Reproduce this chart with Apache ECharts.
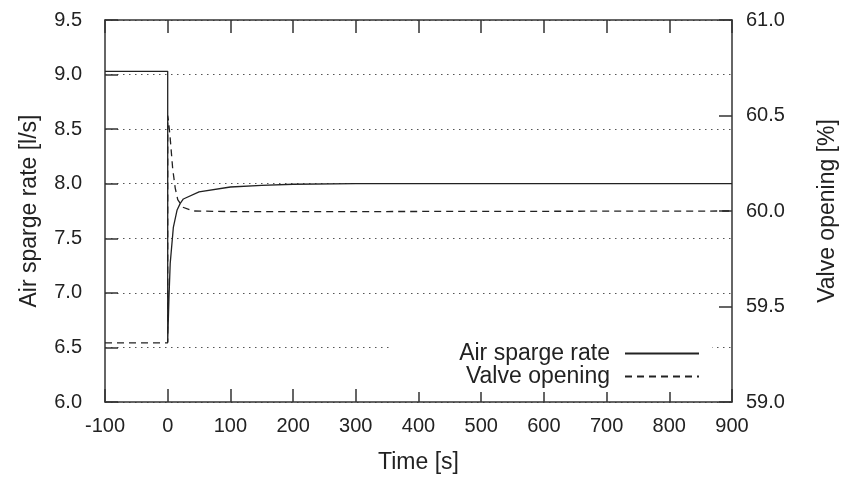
<!DOCTYPE html>
<html>
<head>
<meta charset="utf-8">
<script src="https://cdn.jsdelivr.net/npm/echarts@6/dist/echarts.min.js"></script>
<style>
  html, body { margin: 0; padding: 0; background: #fff; }
  #chart { width: 843px; height: 480px; }
</style>
</head>
<body>
<div id="chart"></div>
<script>
// ---- data ----
const xTicks = [-100, 0, 100, 200, 300, 400, 500, 600, 700, 800, 900];
const leftTicks = [6.0, 6.5, 7.0, 7.5, 8.0, 8.5, 9.0, 9.5];
const rightTicks = [59.0, 59.5, 60.0, 60.5, 61.0];

const spargeTime  = [-100, 0, 0, 2, 4, 9, 15, 20, 25, 50, 100, 150, 200, 300, 900];
const spargeRate  = [9.03, 9.03, 6.55, 6.95, 7.27, 7.60, 7.76, 7.82, 7.86, 7.925, 7.97, 7.985, 7.995, 8.0, 8.0];

const valveTime   = [-100, 0, 0, 1, 4, 8, 12, 16, 24, 40, 100, 300, 900];
const valveOpen   = [59.31, 59.31, 60.50, 60.48, 60.38, 60.22, 60.12, 60.06, 60.02, 60.0, 59.997, 59.997, 60.0];

const seriesNames = ['Air sparge rate', 'Valve opening'];
const axisNames = { x: 'Time [s]', left: 'Air sparge rate [l/s]', right: 'Valve opening [%]' };

// ---- chart ----
const FONT = '"Liberation Sans", Arial, sans-serif';
const TXT = '#222';
const LINE = '#333';

function zip(a, b) { return a.map((v, i) => [v, b[i]]); }

const chart = echarts.init(document.getElementById('chart'), null, { renderer: 'canvas' });

const frameLine = { show: true, onZero: false, lineStyle: { color: LINE, width: 1.5 } };
const tickIn = { show: true, inside: true, length: 13, lineStyle: { color: LINE, width: 1.5 } };

chart.setOption({
  animation: false,
  backgroundColor: '#fff',
  textStyle: { fontFamily: FONT, color: TXT },
  grid: { left: 105, right: 111, top: 20, bottom: 78, containLabel: false, outerBoundsMode: 'none' },
  legend: {
    orient: 'vertical',
    right: 131,
    top: 338,
    align: 'right',
    itemWidth: 74,
    itemHeight: 14,
    itemGap: 0,
    padding: [4, 12, 4, 68],
    backgroundColor: '#fff',
    itemStyle: { opacity: 0 },
    textStyle: { fontFamily: FONT, fontSize: 23, lineHeight: 23, color: TXT, padding: [0, 10, 0, 0] },
    data: seriesNames
  },
  xAxis: [
    {
      type: 'value', position: 'bottom',
      min: xTicks[0], max: xTicks[xTicks.length - 1], interval: 100,
      axisLine: frameLine, axisTick: tickIn,
      axisLabel: { fontFamily: FONT, fontSize: 20, color: TXT, margin: 14 },
      splitLine: { show: false },
      name: axisNames.x, nameLocation: 'middle', nameGap: 49,
      nameTextStyle: { fontFamily: FONT, fontSize: 23, color: TXT }
    },
    {
      type: 'value', position: 'top',
      min: xTicks[0], max: xTicks[xTicks.length - 1], interval: 100,
      axisLine: frameLine, axisTick: tickIn,
      axisLabel: { show: false }, splitLine: { show: false }
    }
  ],
  yAxis: [
    {
      type: 'value', position: 'left',
      min: leftTicks[0], max: leftTicks[leftTicks.length - 1], interval: 0.5,
      axisLine: frameLine, axisTick: tickIn,
      axisLabel: { fontFamily: FONT, fontSize: 20, color: TXT, margin: 23, formatter: v => v.toFixed(1) },
      splitLine: { show: true, lineStyle: { color: '#555', width: 1, type: [1.5, 4.5] } },
      name: axisNames.left, nameLocation: 'middle', nameRotate: 90, nameGap: 64,
      nameTextStyle: { fontFamily: FONT, fontSize: 23, color: TXT }
    },
    {
      type: 'value', position: 'right',
      min: rightTicks[0], max: rightTicks[rightTicks.length - 1], interval: 0.5,
      axisLine: frameLine, axisTick: tickIn,
      axisLabel: { fontFamily: FONT, fontSize: 20, color: TXT, margin: 14, formatter: v => v.toFixed(1) },
      splitLine: { show: false },
      name: axisNames.right, nameLocation: 'middle', nameRotate: 90, nameGap: 84,
      nameTextStyle: { fontFamily: FONT, fontSize: 23, color: TXT }
    }
  ],
  series: [
    {
      name: seriesNames[0], type: 'line', xAxisIndex: 0, yAxisIndex: 0,
      data: zip(spargeTime, spargeRate),
      symbol: 'none', showSymbol: false, smooth: false,
      lineStyle: { color: '#222', width: 1.3, type: 'solid' },
      itemStyle: { color: '#222' },
      z: 3
    },
    {
      name: seriesNames[1], type: 'line', xAxisIndex: 0, yAxisIndex: 1,
      data: zip(valveTime, valveOpen),
      symbol: 'none', showSymbol: false, smooth: false,
      lineStyle: { color: '#222', width: 1.3, type: [7, 5] },
      itemStyle: { color: '#222' },
      z: 3
    }
  ]
});
</script>
</body>
</html>
